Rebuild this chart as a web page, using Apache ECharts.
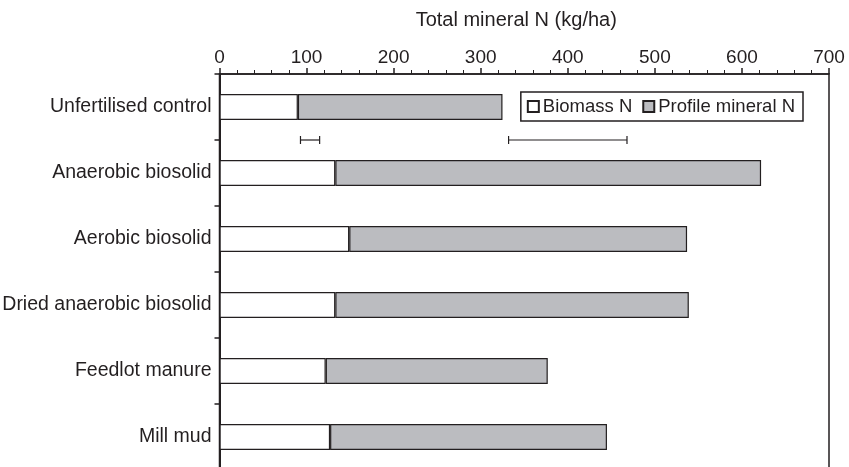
<!DOCTYPE html>
<html>
<head>
<meta charset="utf-8">
<script src="https://cdn.jsdelivr.net/npm/echarts@6/dist/echarts.min.js"></script>
<style>
  html, body { margin: 0; padding: 0; background: #fff; }
  #chart { width: 849px; height: 467px; }
</style>
</head>
<body>
<div id="chart"></div>
<script>
// Treatments, top to bottom
const treatments = [
  'Unfertilised control',
  'Anaerobic biosolid',
  'Aerobic biosolid',
  'Dried anaerobic biosolid',
  'Feedlot manure',
  'Mill mud'
];
// N in crop biomass (kg/ha)
const biomassN = [90, 133, 149, 133, 122, 127];
// Mineral N remaining in the soil profile (kg/ha), stacked after biomass
const profileMineralN = [235, 489, 388, 406, 255, 318];
// LSD bars [low, high] (kg/ha): biomass N, then total mineral N
const lsdBars = [[93, 115], [332, 468]];
// Axis ticks
const xTicks = { min: 0, max: 700, interval: 100 };

const font = 'Liberation Sans, Arial, Helvetica, sans-serif';
const ink = '#231f20';

const chart = echarts.init(document.getElementById('chart'));
chart.setOption({
  animation: false,
  backgroundColor: '#fff',
  grid: {
    left: 219.5, right: 20, top: 74, height: 396,
    outerBoundsMode: 'none',
    containLabel: false,
    show: true, borderColor: ink, borderWidth: 1.5, backgroundColor: 'transparent'
  },
  legend: {
    data: ['Biomass N', 'Profile mineral N'],
    right: 46, top: 92,
    orient: 'horizontal',
    itemWidth: 11, itemHeight: 11, itemGap: 10,
    padding: [5, 8, 5, 6],
    borderColor: ink, borderWidth: 1.5,
    backgroundColor: '#fff',
    textStyle: { fontFamily: font, fontSize: 18.5, color: ink, padding: [0, 0, 0, -1] },
    icon: 'rect'
  },
  xAxis: {
    type: 'value',
    position: 'top',
    min: xTicks.min, max: xTicks.max, interval: xTicks.interval,
    name: 'Total mineral N (kg/ha)',
    nameLocation: 'middle',
    nameGap: 44,
    nameTextStyle: { fontFamily: font, fontSize: 20, color: ink, padding: [0, 16, 0, 0] },
    axisLine: { show: true, lineStyle: { color: ink, width: 1.5 } },
    axisTick: { show: true, length: 6, lineStyle: { color: ink, width: 1.5 } },
    minorTick: { show: true, splitNumber: 5, length: 4, lineStyle: { color: ink, width: 1 } },
    axisLabel: { fontFamily: font, fontSize: 19, color: ink, margin: 7 },
    splitLine: { show: false }
  },
  yAxis: {
    type: 'category',
    data: treatments,
    inverse: true,
    axisLine: { show: true, lineStyle: { color: ink, width: 2 } },
    axisTick: { show: true, length: 5, lineStyle: { color: ink, width: 1.5 } },
    axisLabel: { fontFamily: font, fontSize: 19.5, color: ink, margin: 8 },
    splitLine: { show: false }
  },
  series: [
    {
      name: 'Biomass N',
      type: 'bar',
      stack: 'total',
      data: biomassN,
      barWidth: 26,
      itemStyle: { color: '#ffffff', borderColor: ink, borderWidth: 1.2 }
    },
    {
      name: 'Profile mineral N',
      type: 'bar',
      stack: 'total',
      data: profileMineralN,
      barWidth: 26,
      itemStyle: { color: '#bbbcc0', borderColor: ink, borderWidth: 1.2 }
    },
    {
      name: 'LSD',
      type: 'custom',
      coordinateSystem: 'cartesian2d',
      data: lsdBars.map(b => [b[0], b[1], 0]),
      encode: { x: [0, 1], y: 2 },
      silent: true,
      renderItem: function (params, api) {
        const lo = api.coord([api.value(0), api.value(2)]);
        const hi = api.coord([api.value(1), api.value(2)]);
        const band = api.size([0, 1])[1];
        const y = lo[1] + band / 2;
        const cap = 4;
        const style = { stroke: ink, lineWidth: 1.2 };
        return {
          type: 'group',
          children: [
            { type: 'line', shape: { x1: lo[0], y1: y, x2: hi[0], y2: y }, style },
            { type: 'line', shape: { x1: lo[0], y1: y - cap, x2: lo[0], y2: y + cap }, style },
            { type: 'line', shape: { x1: hi[0], y1: y - cap, x2: hi[0], y2: y + cap }, style }
          ]
        };
      },
      z: 5
    }
  ]
});
</script>
</body>
</html>
